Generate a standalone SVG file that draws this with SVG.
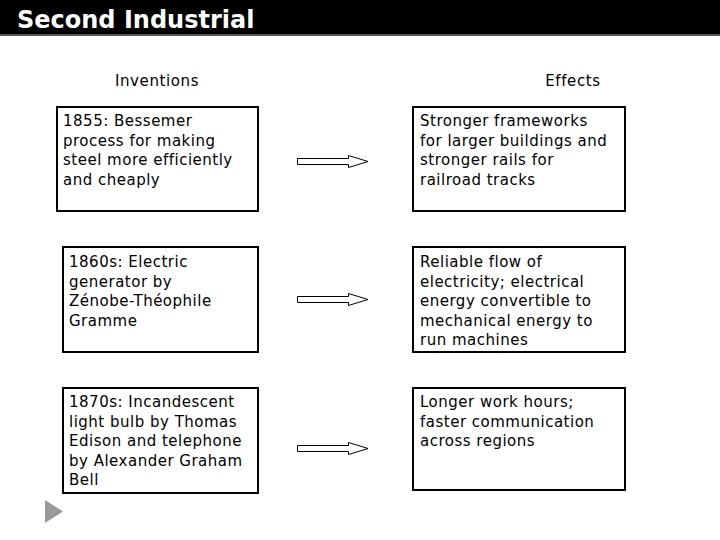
<svg xmlns="http://www.w3.org/2000/svg" width="720" height="540" viewBox="0 0 720 540">
<style>
.box{fill:#fff;stroke:#000;stroke-width:2}
.t{font-family:"DejaVu Sans",Verdana,sans-serif;font-size:15px;letter-spacing:0.5px;fill:#000}
.h{font-family:"DejaVu Sans",Verdana,sans-serif;font-size:15px;letter-spacing:0.6px;fill:#000;text-anchor:middle}
.arr{fill:#fff;stroke:#000;stroke-width:1}
</style>
<rect x="0" y="0" width="720" height="540" fill="#fff"/>
<g id="title">
<rect x="0" y="0" width="720" height="34" fill="#000"/>
<rect x="0" y="34" width="720" height="2" fill="#555"/>
<text x="17" y="28" font-family="'DejaVu Sans',Verdana,sans-serif" font-size="24" font-weight="bold" fill="#fff">Second Industrial</text>
</g>
<g id="headers">
<text class="h" x="157" y="86">Inventions</text>
<text class="h" x="573" y="86">Effects</text>
</g>
<g id="inv1">
<rect class="box" x="57" y="107" width="201" height="104"/>
<text class="t"><tspan x="63" y="126">1855: Bessemer</tspan><tspan x="63" y="145.5">process for making</tspan><tspan x="63" y="165">steel more efficiently</tspan><tspan x="63" y="184.5">and cheaply</tspan></text>
</g>
<g id="eff1">
<rect class="box" x="413" y="107" width="212" height="104"/>
<text class="t"><tspan x="420" y="126">Stronger frameworks</tspan><tspan x="420" y="145.5">for larger buildings and</tspan><tspan x="420" y="165">stronger rails for</tspan><tspan x="420" y="184.5">railroad tracks</tspan></text>
</g>
<g id="inv2">
<rect class="box" x="63" y="247" width="195" height="105"/>
<text class="t"><tspan x="69" y="267">1860s: Electric</tspan><tspan x="69" y="286.5">generator by</tspan><tspan x="69" y="306">Zénobe-Théophile</tspan><tspan x="69" y="325.5">Gramme</tspan></text>
</g>
<g id="eff2">
<rect class="box" x="413" y="247" width="212" height="105"/>
<text class="t"><tspan x="420" y="267">Reliable flow of</tspan><tspan x="420" y="286.5">electricity; electrical</tspan><tspan x="420" y="306">energy convertible to</tspan><tspan x="420" y="325.5">mechanical energy to</tspan><tspan x="420" y="345">run machines</tspan></text>
</g>
<g id="inv3">
<rect class="box" x="63" y="388" width="195" height="105"/>
<text class="t"><tspan x="69" y="407">1870s: Incandescent</tspan><tspan x="69" y="426.5">light bulb by Thomas</tspan><tspan x="69" y="446">Edison and telephone</tspan><tspan x="69" y="465.5">by Alexander Graham</tspan><tspan x="69" y="485">Bell</tspan></text>
</g>
<g id="eff3">
<rect class="box" x="413" y="388" width="212" height="102"/>
<text class="t"><tspan x="420" y="407">Longer work hours;</tspan><tspan x="420" y="426.5">faster communication</tspan><tspan x="420" y="446">across regions</tspan></text>
</g>
<g id="connectors">
<path class="arr" d="M297.5 158.5 H348.5 V155.5 L368 161.5 L348.5 167.5 V164.5 H297.5 Z"/>
<path class="arr" d="M297.5 296.5 H348.5 V293.5 L368 299.5 L348.5 305.5 V302.5 H297.5 Z"/>
<path class="arr" d="M297.5 445.5 H348.5 V442.5 L368 448.5 L348.5 454.5 V451.5 H297.5 Z"/>
</g>
<g id="nav">
<polygon points="45,500 63,511.5 45,523" fill="#999"/>
</g>
</svg>
